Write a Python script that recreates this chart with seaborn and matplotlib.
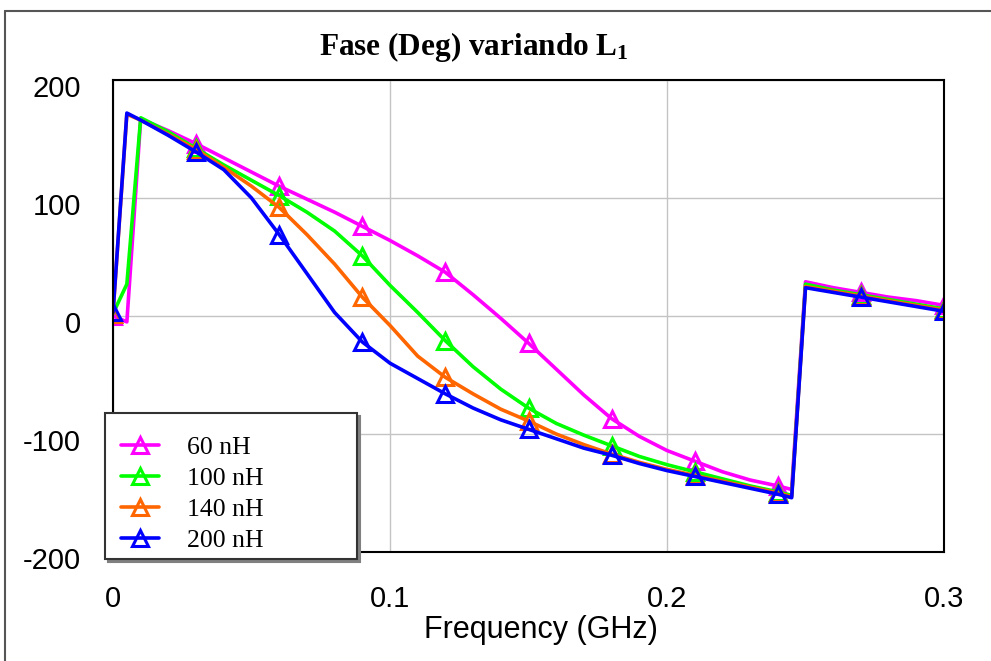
import numpy as np
import pandas as pd
import matplotlib
matplotlib.use("Agg")
import matplotlib.pyplot as plt
import matplotlib.transforms as mtransforms
from matplotlib.lines import Line2D
from matplotlib.legend_handler import HandlerLine2D
import seaborn as sns

## Data (phase in degrees vs frequency in GHz)
freq = [0, 0.005, 0.01, 0.02, 0.03, 0.04, 0.05, 0.06, 0.07, 0.08, 0.09, 0.10,
        0.11, 0.12, 0.13, 0.14, 0.15, 0.16, 0.17, 0.18, 0.19, 0.20, 0.21, 0.22,
        0.23, 0.24, 0.245, 0.25, 0.26, 0.27, 0.28, 0.29, 0.30]

fase_60nH = [0, -5, 167, 157, 146, 134, 122, 110, 99, 88, 76, 64,
             51, 37, 18, -2, -23, -45, -67, -87, -102, -114, -123, -132,
             -139, -144, -147, 29, 24, 20, 16, 13, 9]
fase_100nH = [2, 27, 168, 156, 142, 128, 115, 102, 88, 72, 51, 26,
              3, -21, -43, -62, -78, -91, -101, -110, -119, -126, -132, -138,
              -144, -149, -152, 27, 22, 18, 14, 10, 6]
fase_140nH = [2, 171, 166, 154, 141, 126, 110, 92, 69, 44, 16, -8,
              -34, -52, -66, -79, -89, -100, -109, -117, -124, -130, -135, -140,
              -145, -150, -153, 25, 21, 17, 13, 9, 5]
fase_200nH = [3, 172, 166, 153, 139, 124, 100, 69, 36, 3, -22, -40,
              -53, -66, -78, -88, -96, -104, -112, -118, -125, -131, -136, -141,
              -146, -151, -154, 24, 20, 16, 12, 8, 4]

labels = ['60 nH', '100 nH', '140 nH', '200 nH']
colors = ['#FF00FF', '#00FF00', '#FF6600', '#0000FF']
series = [fase_60nH, fase_100nH, fase_140nH, fase_200nH]

sns.set_theme(style='white')
plt.rcParams['font.family'] = ['Liberation Sans', 'DejaVu Sans']
plt.rcParams['mathtext.fontset'] = 'custom'
plt.rcParams['mathtext.rm'] = 'Liberation Serif:bold'
plt.rcParams['mathtext.default'] = 'rm'
for key in ['text.color', 'axes.labelcolor', 'xtick.color', 'ytick.color']:
    plt.rcParams[key] = 'black'

fig = plt.figure(figsize=(9.91, 6.61), dpi=100)
ax = fig.add_axes([113 / 991, 1 - 552 / 661, (944 - 113) / 991, (552 - 80) / 661])

f = np.array(freq)
mark_idx = list(np.where(np.isclose(np.round(f / 0.03) * 0.03, f))[0])

for lab, col, vals in zip(labels, colors, series):
    df = pd.DataFrame({'Frequency': freq, 'Fase': vals})
    sns.lineplot(data=df, x='Frequency', y='Fase', ax=ax, color=col, label=lab,
                 estimator=None, sort=False, linewidth=2.6, marker='^',
                 markersize=12, markevery=mark_idx, markerfacecolor='none',
                 markeredgecolor=col, markeredgewidth=2.2)

ax.set_xlim(0, 0.3)
ax.set_ylim(-200, 200)
ax.set_xticks([0, 0.1, 0.2, 0.3], ['0', '0.1', '0.2', '0.3'])
ax.set_yticks([-200, -100, 0, 100, 200], ['-200', '-100', '0', '100', '200'])
ax.tick_params(length=0, labelsize=21, colors='black')
ax.tick_params(axis='x', pad=24)
ax.tick_params(axis='y', pad=23)
ax.grid(True, color='#C4C4C4', linewidth=1)
for sp in ax.spines.values():
    sp.set_color('black')
    sp.set_linewidth(1.5)

# nudge y tick labels slightly down like the original
shift = mtransforms.ScaledTranslation(0, -6 / 100, fig.dpi_scale_trans)
for lbl in ax.get_yticklabels():
    lbl.set_transform(lbl.get_transform() + shift)

ax.set_xlabel('Frequency (GHz)', fontsize=22, color='black')
ax.xaxis.set_label_coords(0.515, -0.134)
ax.set_ylabel('')

fig.text(474 / 991, 1 - 47 / 661, r'Fase (Deg) variando $\mathrm{L}_\mathrm{1}$',
         ha='center', va='center', fontsize=22.5, fontweight='bold',
         family='Liberation Serif', color='black')

handles, labs = ax.get_legend_handles_labels()
leg = ax.legend(handles, labs, loc='upper left', mode='expand',
                bbox_to_anchor=(105 / 991, 1 - 557 / 661, 252 / 991, 144 / 661),
                bbox_transform=fig.transFigure, fancybox=False,
                shadow={'color': '#808080', 'alpha': 1},
                prop={'family': 'Liberation Serif', 'size': 18.5},
                title=' ', title_fontsize=5,
                handler_map={Line2D: HandlerLine2D(xpad=0.31)},
                handlelength=1.8, handletextpad=1.1, labelspacing=0.31,
                borderpad=0.3, borderaxespad=0, framealpha=1)
leg.get_frame().set_edgecolor('#333333')
leg.get_frame().set_linewidth(1.5)
for t in leg.get_texts():
    t.set_color('black')

# outer frame of the original screenshot
fig.add_artist(Line2D([5 / 991, 1], [1 - 11 / 661, 1 - 11 / 661],
                      transform=fig.transFigure, color='#555555', lw=1.5))
fig.add_artist(Line2D([5 / 991, 5 / 991], [0, 1 - 11 / 661],
                      transform=fig.transFigure, color='#555555', lw=1.5))

fig.savefig('out.png', dpi=100)
